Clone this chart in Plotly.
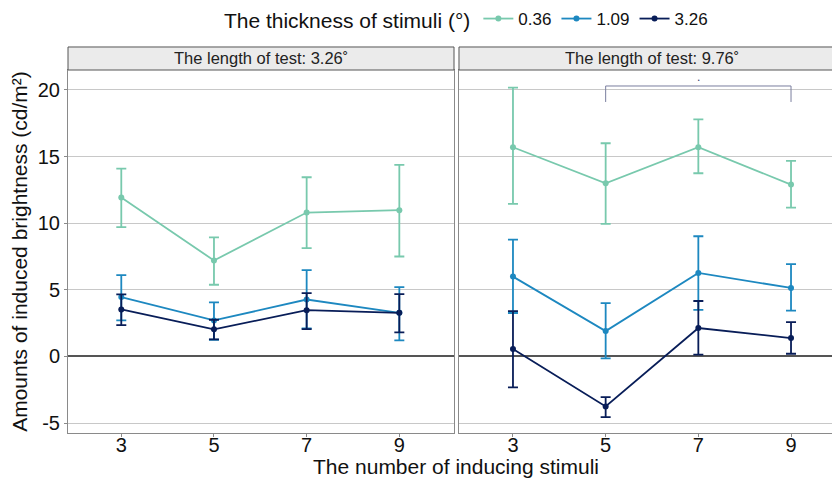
import plotly.graph_objects as go

# ---- data ----
n_stimuli = [3, 5, 7, 9]
thickness_labels = ["0.36", "1.09", "3.26"]
panel_titles = ["The length of test: 3.26˚", "The length of test: 9.76˚"]

# panel 1 (test length 3.26)
p1_mean = {
    "0.36": [11.93, 7.2, 10.8, 10.98],
    "1.09": [4.45, 2.7, 4.27, 3.27],
    "3.26": [3.53, 2.03, 3.47, 3.27],
}
p1_upper = {
    "0.36": [14.1, 8.93, 13.45, 14.38],
    "1.09": [6.1, 4.05, 6.48, 5.2],
    "3.26": [4.65, 2.75, 4.75, 4.67],
}
p1_lower = {
    "0.36": [9.7, 5.38, 8.13, 7.5],
    "1.09": [2.7, 1.25, 2.1, 1.2],
    "3.26": [2.35, 1.28, 2.05, 1.8],
}
# panel 2 (test length 9.76)
p2_mean = {
    "0.36": [15.7, 13.0, 15.7, 12.9],
    "1.09": [5.99, 1.9, 6.27, 5.14],
    "3.26": [0.55, -3.76, 2.13, 1.38],
}
p2_upper = {
    "0.36": [20.17, 16.0, 17.8, 14.68],
    "1.09": [8.77, 4.0, 9.02, 6.92],
    "3.26": [3.4, -3.06, 4.16, 2.58],
}
p2_lower = {
    "0.36": [11.45, 9.95, 13.75, 11.17],
    "1.09": [3.26, -0.15, 3.5, 3.43],
    "3.26": [-2.33, -4.56, 0.13, 0.2],
}

# significance bracket (panel 2)
sig_x = [5, 9]
sig_y = 20.3
sig_tick_y = 19.1
sig_label = "."

y_ticks = [-5, 0, 5, 10, 15, 20]
y_ticklabels = ["-5", "0", "5", "10", "15", "20"]

colors = {"0.36": "#78c9ad", "1.09": "#1d88c0", "3.26": "#081d58"}
FONT = "Liberation Sans, Arial, sans-serif"

fig = go.Figure()

for panel, (means, ups, lows) in enumerate(
    [(p1_mean, p1_upper, p1_lower), (p2_mean, p2_upper, p2_lower)]
):
    xa = "x" if panel == 0 else "x2"
    ya = "y" if panel == 0 else "y2"
    for lab in thickness_labels:
        m = means[lab]
        up = [u - v for u, v in zip(ups[lab], m)]
        lo = [v - l for v, l in zip(m, lows[lab])]
        fig.add_trace(go.Scatter(
            x=n_stimuli, y=m, xaxis=xa, yaxis=ya,
            mode="lines+markers",
            name=lab, legendgroup=lab, showlegend=(panel == 0),
            line=dict(color=colors[lab], width=1.8),
            marker=dict(color=colors[lab], size=6),
            error_y=dict(type="data", symmetric=False, array=up, arrayminus=lo,
                         color=colors[lab], thickness=1.8, width=5),
        ))

# bracket
fig.add_trace(go.Scatter(
    x=[sig_x[0], sig_x[0], sig_x[1], sig_x[1]],
    y=[sig_tick_y, sig_y, sig_y, sig_tick_y],
    xaxis="x2", yaxis="y2", mode="lines",
    line=dict(color="#7a7e9e", width=1), showlegend=False, hoverinfo="skip",
))
fig.add_annotation(
    x=(sig_x[0] + sig_x[1]) / 2, y=sig_y, xref="x2", yref="y2",
    text=sig_label, showarrow=False, yanchor="bottom",
    font=dict(size=12, color="#3a3e6e", family=FONT),
)

xrange1 = [1.85, 10.18]
xrange2 = [1.835, 10.165]
yrange = [-5.75, 21.5]

axis_common = dict(
    showgrid=False, zeroline=False, showline=True, linecolor="#8a8a8a", linewidth=1,
    ticks="outside", ticklen=3, tickcolor="#8a8a8a", automargin=False,
    tickfont=dict(size=20, color="#111111", family=FONT),
)

fig.update_layout(
    width=840, height=480,
    margin=dict(l=60, r=3, t=62, b=55, autoexpand=False),
    plot_bgcolor="white", paper_bgcolor="white",
    font=dict(family=FONT, color="#111111"),
    showlegend=True,
    legend=dict(
        orientation="h", x=0.514, xanchor="center", y=1.1377, yanchor="middle",
        title=dict(text="The thickness of stimuli (°)", font=dict(size=21, family=FONT)),
        font=dict(size=17, family=FONT), itemwidth=30, bgcolor="rgba(0,0,0,0)",
    ),
    xaxis=dict(domain=[0, 0.4968], range=xrange1, tickvals=n_stimuli, mirror=True,
               ticklabelstandoff=-9, **axis_common),
    xaxis2=dict(domain=[0.5032, 1], range=xrange2, tickvals=n_stimuli, mirror=True,
                ticklabelstandoff=-9, **axis_common),
    yaxis=dict(range=yrange, tickvals=y_ticks, ticktext=y_ticklabels, mirror=True,
               **{**axis_common, "showgrid": True, "gridcolor": "#c8c8c8", "gridwidth": 1,
                  "zeroline": True, "zerolinecolor": "#555555", "zerolinewidth": 1.5},
               title=dict(text="Amounts of induced brightness (cd/m²)",
                          font=dict(size=21, family=FONT), standoff=4)),
    yaxis2=dict(range=yrange, tickvals=y_ticks, anchor="x2", showticklabels=False,
                mirror=True,
                **{**axis_common, "ticks": "", "showgrid": True, "gridcolor": "#c8c8c8",
                   "gridwidth": 1, "zeroline": True, "zerolinecolor": "#555555",
                   "zerolinewidth": 1.5}),
)

# strips
strip_top = 1.0634
for i, (xr, title, cx) in enumerate([("x domain", panel_titles[0], 0.5),
                                     ("x2 domain", panel_titles[1], 0.5)]):
    fig.add_shape(type="rect", xref=xr, yref="paper", x0=0, x1=1,
                  y0=1.0, y1=strip_top, fillcolor="#ebebeb",
                  line=dict(color="#555555", width=1), layer="above")
    fig.add_annotation(xref=xr, yref="paper", x=cx, y=(1.0 + strip_top) / 2,
                       text=title, showarrow=False, xanchor="center", yanchor="middle",
                       font=dict(size=16.5, color="#222222", family=FONT))

# x title
fig.add_annotation(xref="paper", yref="paper", x=0.4994, y=-0.1295, yanchor="bottom",
                   text="The number of inducing stimuli", showarrow=False,
                   font=dict(size=21, color="#111111", family=FONT))

fig.write_html("out.html")
